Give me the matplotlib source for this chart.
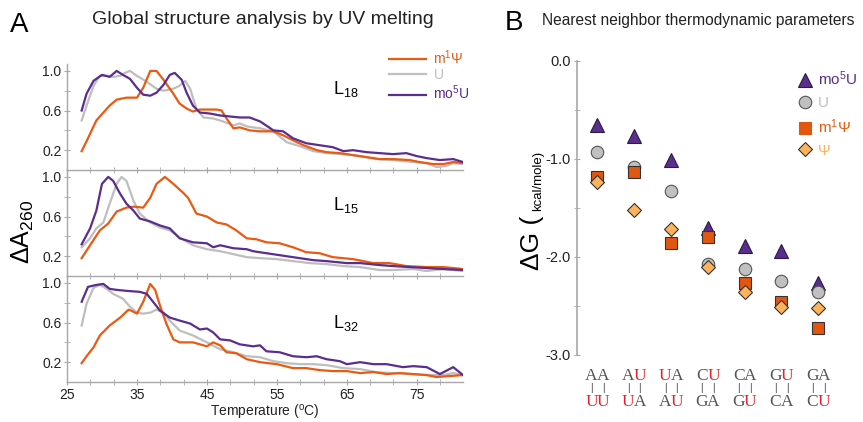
import matplotlib.pyplot as plt
from matplotlib.lines import Line2D
from matplotlib.ticker import FixedLocator

plt.rcParams['font.family'] = ['Liberation Sans', 'DejaVu Sans']
plt.rcParams['mathtext.fontset'] = 'custom'
plt.rcParams['mathtext.rm'] = 'Liberation Sans'
plt.rcParams['mathtext.default'] = 'regular'
plt.rcParams['axes.unicode_minus'] = False

ORANGE = '#E95A12'
GRAY = '#BEBEBE'
PURPLE = '#5B2D8E'
LIGHT = '#FDB35C'
SPINE = '#A8A8A8'
RED = '#E3202B'
LETTER = '#555555'

# ---- A: UV melting curves, temperature (C) vs normalised dA260 ----
# L18
t18_m1psi = [27.1, 27.8, 29.2, 29.7, 31.1, 32.1, 33.5, 35.0, 35.9, 36.9, 37.8, 38.8, 40.2, 41.1,
             42.1, 43.0, 44.0, 46.4, 47.1, 47.8, 48.8, 49.7, 51.1, 52.6, 54.5, 55.9, 57.3, 58.8,
             60.7, 62.1, 64.0, 65.9, 67.8, 69.7, 71.6, 74.0, 75.4, 77.3, 78.8, 80.2, 81.6]
a18_m1psi = [0.19, 0.29, 0.50, 0.54, 0.65, 0.71, 0.73, 0.73, 0.83, 1.00, 1.00, 0.91, 0.77, 0.67,
             0.62, 0.59, 0.61, 0.61, 0.60, 0.52, 0.42, 0.43, 0.40, 0.39, 0.39, 0.35, 0.30, 0.25,
             0.20, 0.18, 0.17, 0.15, 0.13, 0.11, 0.11, 0.10, 0.08, 0.06, 0.06, 0.08, 0.07]
t18_u = [27.1, 27.8, 28.8, 29.7, 30.7, 31.6, 32.6, 33.3, 34.0, 35.0, 36.4, 37.8, 38.8, 40.2,
         41.1, 41.9, 42.6, 43.5, 44.5, 45.9, 47.3, 48.8, 49.7, 50.7, 52.6, 54.5, 56.4, 58.3,
         60.2, 62.1, 64.5, 66.9, 69.2, 71.6, 74.5, 76.4, 77.8, 79.2, 80.2, 81.6]
a18_u = [0.50, 0.65, 0.85, 0.95, 0.95, 0.94, 0.95, 0.98, 1.00, 0.95, 0.89, 0.82, 0.80, 0.82,
         0.85, 0.90, 0.82, 0.62, 0.53, 0.52, 0.49, 0.45, 0.47, 0.44, 0.42, 0.39, 0.28, 0.24,
         0.19, 0.17, 0.16, 0.14, 0.11, 0.10, 0.08, 0.07, 0.03, 0.04, 0.07, 0.06]
t18_mo5u = [27.1, 27.8, 28.8, 30.0, 31.1, 32.1, 33.0, 34.0, 35.0, 35.9, 36.9, 37.8, 38.8, 39.7,
            40.4, 41.4, 42.1, 43.0, 44.0, 45.4, 46.9, 48.3, 49.7, 51.1, 52.6, 54.5, 55.9, 57.3,
            59.2, 61.1, 63.0, 64.5, 65.9, 67.8, 69.7, 71.6, 73.5, 75.0, 76.4, 78.3, 80.2, 81.6]
a18_mo5u = [0.60, 0.77, 0.90, 0.96, 0.94, 1.00, 0.96, 0.92, 0.83, 0.76, 0.75, 0.78, 0.86, 0.96,
            0.98, 0.91, 0.78, 0.65, 0.58, 0.57, 0.55, 0.54, 0.53, 0.53, 0.49, 0.40, 0.39, 0.32,
            0.27, 0.25, 0.23, 0.19, 0.20, 0.18, 0.17, 0.16, 0.17, 0.14, 0.12, 0.10, 0.11, 0.08]

# L15
t15_m1psi = [27.1, 28.3, 29.7, 30.9, 32.1, 33.5, 34.5, 35.9, 36.9, 37.8, 39.0, 40.2, 41.6, 42.3,
             43.5, 45.0, 46.4, 47.8, 49.2, 50.7, 52.1, 53.5, 55.4, 57.3, 59.2, 61.1, 63.0, 65.9,
             68.8, 71.1, 73.5, 76.4, 78.8, 81.6]
a15_m1psi = [0.18, 0.31, 0.46, 0.53, 0.65, 0.69, 0.70, 0.69, 0.79, 0.93, 1.00, 0.93, 0.84, 0.79,
             0.63, 0.60, 0.54, 0.52, 0.46, 0.38, 0.37, 0.34, 0.33, 0.29, 0.24, 0.23, 0.19, 0.17,
             0.13, 0.13, 0.10, 0.09, 0.09, 0.07]
t15_u = [27.1, 28.3, 29.2, 30.2, 31.1, 32.1, 32.8, 33.5, 34.5, 35.4, 36.9, 38.3, 39.7, 41.1,
         43.0, 45.0, 46.9, 48.8, 50.7, 52.6, 55.0, 57.3, 59.7, 62.1, 64.5, 66.9, 69.7, 71.6,
         74.5, 76.4, 78.8, 81.6]
a15_u = [0.29, 0.38, 0.48, 0.54, 0.73, 0.93, 1.00, 0.96, 0.76, 0.63, 0.54, 0.49, 0.46, 0.39,
         0.31, 0.27, 0.25, 0.22, 0.19, 0.18, 0.17, 0.15, 0.13, 0.12, 0.10, 0.09, 0.06, 0.06,
         0.07, 0.05, 0.07, 0.05]
t15_mo5u = [27.1, 28.3, 29.2, 30.0, 30.9, 31.6, 32.6, 33.5, 34.5, 35.4, 36.9, 38.3, 39.7, 41.1,
            43.0, 45.0, 45.9, 46.9, 48.8, 50.7, 51.6, 53.5, 55.4, 57.3, 60.2, 62.1, 65.0, 66.9,
            69.7, 71.6, 74.0, 76.4, 78.8, 81.6]
a15_mo5u = [0.32, 0.48, 0.66, 0.93, 1.00, 0.96, 0.83, 0.73, 0.66, 0.58, 0.55, 0.51, 0.48, 0.38,
            0.34, 0.33, 0.29, 0.31, 0.28, 0.27, 0.25, 0.23, 0.21, 0.19, 0.16, 0.15, 0.13, 0.13,
            0.11, 0.10, 0.09, 0.08, 0.07, 0.06]

# L32
t32_m1psi = [27.1, 27.8, 28.8, 29.7, 31.1, 32.6, 33.8, 34.2, 35.0, 35.9, 36.9, 37.6, 38.3, 39.2,
             40.2, 41.1, 43.0, 45.0, 45.9, 46.9, 47.8, 49.2, 50.7, 52.6, 55.0, 57.3, 59.2, 61.1,
             63.0, 65.0, 66.9, 68.8, 70.7, 72.6, 74.5, 76.4, 77.8, 79.7, 81.6]
a32_m1psi = [0.19, 0.26, 0.35, 0.47, 0.57, 0.65, 0.73, 0.72, 0.69, 0.81, 0.99, 0.93, 0.77, 0.59,
             0.43, 0.40, 0.40, 0.36, 0.40, 0.37, 0.30, 0.29, 0.23, 0.20, 0.18, 0.14, 0.14, 0.12,
             0.11, 0.11, 0.09, 0.10, 0.08, 0.09, 0.08, 0.07, 0.05, 0.06, 0.07]
t32_u = [27.1, 27.8, 28.8, 29.7, 30.7, 31.6, 33.0, 34.0, 35.0, 35.9, 36.9, 37.8, 38.8, 39.7,
         41.1, 43.0, 45.0, 46.9, 48.8, 50.7, 52.6, 54.5, 56.4, 58.3, 60.2, 62.1, 64.5, 66.9,
         69.2, 71.6, 74.0, 76.4, 78.8, 80.2, 81.6]
a32_u = [0.57, 0.79, 0.95, 0.98, 0.94, 0.89, 0.84, 0.76, 0.70, 0.69, 0.70, 0.73, 0.70, 0.62,
         0.52, 0.47, 0.40, 0.33, 0.30, 0.26, 0.25, 0.21, 0.19, 0.18, 0.18, 0.17, 0.14, 0.13,
         0.10, 0.09, 0.08, 0.07, 0.07, 0.09, 0.07]
t32_mo5u = [27.1, 28.0, 29.2, 30.2, 31.1, 32.1, 33.5, 35.4, 36.4, 37.3, 38.3, 39.7, 41.1, 42.6,
            44.0, 45.0, 45.9, 46.9, 48.3, 49.7, 51.6, 52.6, 53.5, 55.4, 57.3, 59.2, 60.7, 62.1,
            64.0, 65.0, 66.9, 68.8, 70.7, 73.0, 74.5, 76.4, 78.3, 80.2, 81.6]
a32_mo5u = [0.81, 0.96, 0.98, 0.99, 0.94, 0.93, 0.92, 0.91, 0.89, 0.81, 0.72, 0.65, 0.62, 0.59,
            0.53, 0.54, 0.50, 0.43, 0.42, 0.38, 0.36, 0.37, 0.31, 0.30, 0.26, 0.25, 0.26, 0.23,
            0.21, 0.18, 0.20, 0.18, 0.18, 0.15, 0.16, 0.15, 0.08, 0.15, 0.07]

# ---- B: nearest neighbor dG (kcal/mole) ----
pair_top = ['AA', 'AU', 'UA', 'CU', 'CA', 'GU', 'GA']
pair_bottom = ['UU', 'UA', 'AU', 'GA', 'GU', 'CA', 'CU']
dg_mo5u = [-0.65, -0.77, -1.01, -1.70, -1.89, -1.94, -2.27]
dg_u = [-0.93, -1.08, -1.33, -2.07, -2.12, -2.24, -2.36]
dg_m1psi = [-1.18, -1.13, -1.86, -1.80, -2.27, -2.46, -2.72]
dg_psi = [-1.23, -1.52, -1.71, -2.10, -2.36, -2.51, -2.52]

fig = plt.figure(figsize=(8.63, 4.22), dpi=100)

panels = [
    ('L$_{18}$', t18_m1psi, a18_m1psi, t18_u, a18_u, t18_mo5u, a18_mo5u),
    ('L$_{15}$', t15_m1psi, a15_m1psi, t15_u, a15_u, t15_mo5u, a15_mo5u),
    ('L$_{32}$', t32_m1psi, a32_m1psi, t32_u, a32_u, t32_mo5u, a32_mo5u),
]
label_y = [0.790, 0.514, 0.235]
x_minor = [25 + k * 10 / 3 for k in range(18)]

for i, (name, tm, am, tu, au, to, ao) in enumerate(panels):
    ax = fig.add_axes([0.0776, 0.5972 - i * 0.2512, 0.4589, 0.2512])
    ax.patch.set_alpha(0)
    l_u, = ax.plot(tu, au, color=GRAY, lw=1.6)
    l_m, = ax.plot(tm, am, color=ORANGE, lw=1.6)
    l_o, = ax.plot(to, ao, color=PURPLE, lw=1.6)
    ax.set_xlim(25, 81.6)
    ax.set_ylim(0, 1.07)
    for s in ['top', 'right']:
        ax.spines[s].set_visible(False)
    for s in ['left', 'bottom']:
        ax.spines[s].set_color(SPINE)
        ax.spines[s].set_linewidth(1)
    ax.set_yticks([0.2, 0.6, 1.0])
    ax.set_yticklabels(['0.2', '0.6', '1.0'])
    ax.yaxis.set_minor_locator(FixedLocator([0.4, 0.8]))
    ax.set_xticks([25, 35, 45, 55, 65, 75])
    ax.xaxis.set_minor_locator(FixedLocator(x_minor))
    ax.tick_params(which='both', direction='inout', color=SPINE, labelsize=10,
                   length=4, pad=2, labelcolor='#222222')
    if i < 2:
        ax.tick_params(labelbottom=False)
    else:
        ax.set_xlabel('Temperature ($^{o}$C)', fontsize=10, labelpad=1, color='#222222')
    fig.text(0.386, label_y[i], name, fontsize=13, ha='left', va='center')
    if i == 0:
        ax.legend([l_m, l_u, l_o], ['m$^1$Ψ', 'U', 'mo$^5$U'], loc='upper left',
                  bbox_to_anchor=(382 / 863, 1 - 41 / 422), bbox_transform=fig.transFigure,
                  frameon=False, fontsize=10, handlelength=2.7, handletextpad=0.5,
                  borderpad=0, labelspacing=0.12, labelcolor='linecolor')

fig.text(10 / 863, 1 - 25 / 422, 'A', fontsize=20, ha='left', va='center')
fig.text(263 / 863, 1 - 20 / 422, 'Global structure analysis by UV melting',
         fontsize=14, ha='center', va='center', color='#222222')
fig.text(23 / 863, 1 - 232 / 422, 'ΔA$_{260}$', rotation=90, fontsize=18,
         ha='center', va='center')

# ---- panel B ----
ax2 = fig.add_axes([0.6686, 0.1588, 0.305, 0.6967])
ax2.patch.set_alpha(0)
xpos = list(range(len(pair_top)))
ax2.plot(xpos, dg_mo5u, ls='none', marker='^', ms=10, mfc=PURPLE, mec='#2B1B3F', mew=0.8)
ax2.plot(xpos, dg_u, ls='none', marker='o', ms=9, mfc='#C0C0C0', mec='#555555', mew=0.8)
ax2.plot(xpos, dg_m1psi, ls='none', marker='s', ms=8.5, mfc='#E2560F', mec='#333333', mew=0.8)
ax2.plot(xpos, dg_psi, ls='none', marker='D', ms=7, mfc=LIGHT, mec='#333333', mew=0.8)
ax2.set_xlim(-0.55, 6.6)
ax2.set_ylim(-3.0, 0.0)
for s in ['top', 'right', 'bottom']:
    ax2.spines[s].set_visible(False)
ax2.spines['left'].set_color(SPINE)
ax2.spines['left'].set_linewidth(1.2)
ax2.set_xticks([])
ax2.set_yticks([0.0, -1.0, -2.0, -3.0])
ax2.set_yticklabels(['0.0', '-1.0', '-2.0', '-3.0'])
ax2.yaxis.set_minor_locator(FixedLocator([-0.5, -1.5, -2.5]))
ax2.tick_params(which='both', direction='inout', color=SPINE, labelsize=10.5,
                length=5, pad=2, labelcolor='#222222')

for i in xpos:
    for j, (top_ch, bot_ch) in enumerate(zip(pair_top[i], pair_bottom[i])):
        dx = -4.2 if j == 0 else 4.2
        for ch, dy in [(top_ch, -15), (bot_ch, -34)]:
            ax2.annotate(ch, xy=(i, 0), xycoords=('data', 'axes fraction'),
                         xytext=(dx, dy), textcoords='offset points', ha='center',
                         va='center', fontsize=12.5, family='Liberation Serif',
                         color=RED if ch == 'U' else LETTER)
        ax2.annotate('|', xy=(i, 0), xycoords=('data', 'axes fraction'),
                     xytext=(dx, -24), textcoords='offset points', ha='center',
                     va='center', fontsize=7.5, color=LETTER)

handles = [
    Line2D([], [], ls='none', marker='^', ms=10, mfc=PURPLE, mec='#2B1B3F', mew=0.8),
    Line2D([], [], ls='none', marker='o', ms=9, mfc='#C0C0C0', mec='#555555', mew=0.8),
    Line2D([], [], ls='none', marker='s', ms=8.5, mfc='#E2560F', mec='#E2560F', mew=0.8),
    Line2D([], [], ls='none', marker='D', ms=7, mfc=LIGHT, mec='#333333', mew=0.8),
]
leg = ax2.legend(handles, ['mo$^5$U', 'U', 'm$^1$Ψ', 'Ψ'], loc='upper left',
                 bbox_to_anchor=(0.915, 0.853), bbox_transform=fig.transFigure,
                 frameon=False, fontsize=11, handlelength=1, handletextpad=0.35,
                 borderpad=0, labelspacing=0.5)
for txt, c in zip(leg.get_texts(), [PURPLE, GRAY, ORANGE, LIGHT]):
    txt.set_color(c)

fig.text(505 / 863, 1 - 23 / 422, 'B', fontsize=20, ha='left', va='center')
fig.text(542 / 863, 1 - 20 / 422, 'Nearest neighbor thermodynamic parameters',
         fontsize=11.2, ha='left', va='center', color='#222222')
fig.text(532 / 863, 1 - 270 / 422, 'ΔG (', rotation=90, fontsize=19,
         ha='center', va='bottom')
fig.text(538 / 863, 1 - 211 / 422, 'kcal/mole)', rotation=90, fontsize=9.5,
         ha='center', va='bottom')

fig.savefig('out.png', dpi=100)
